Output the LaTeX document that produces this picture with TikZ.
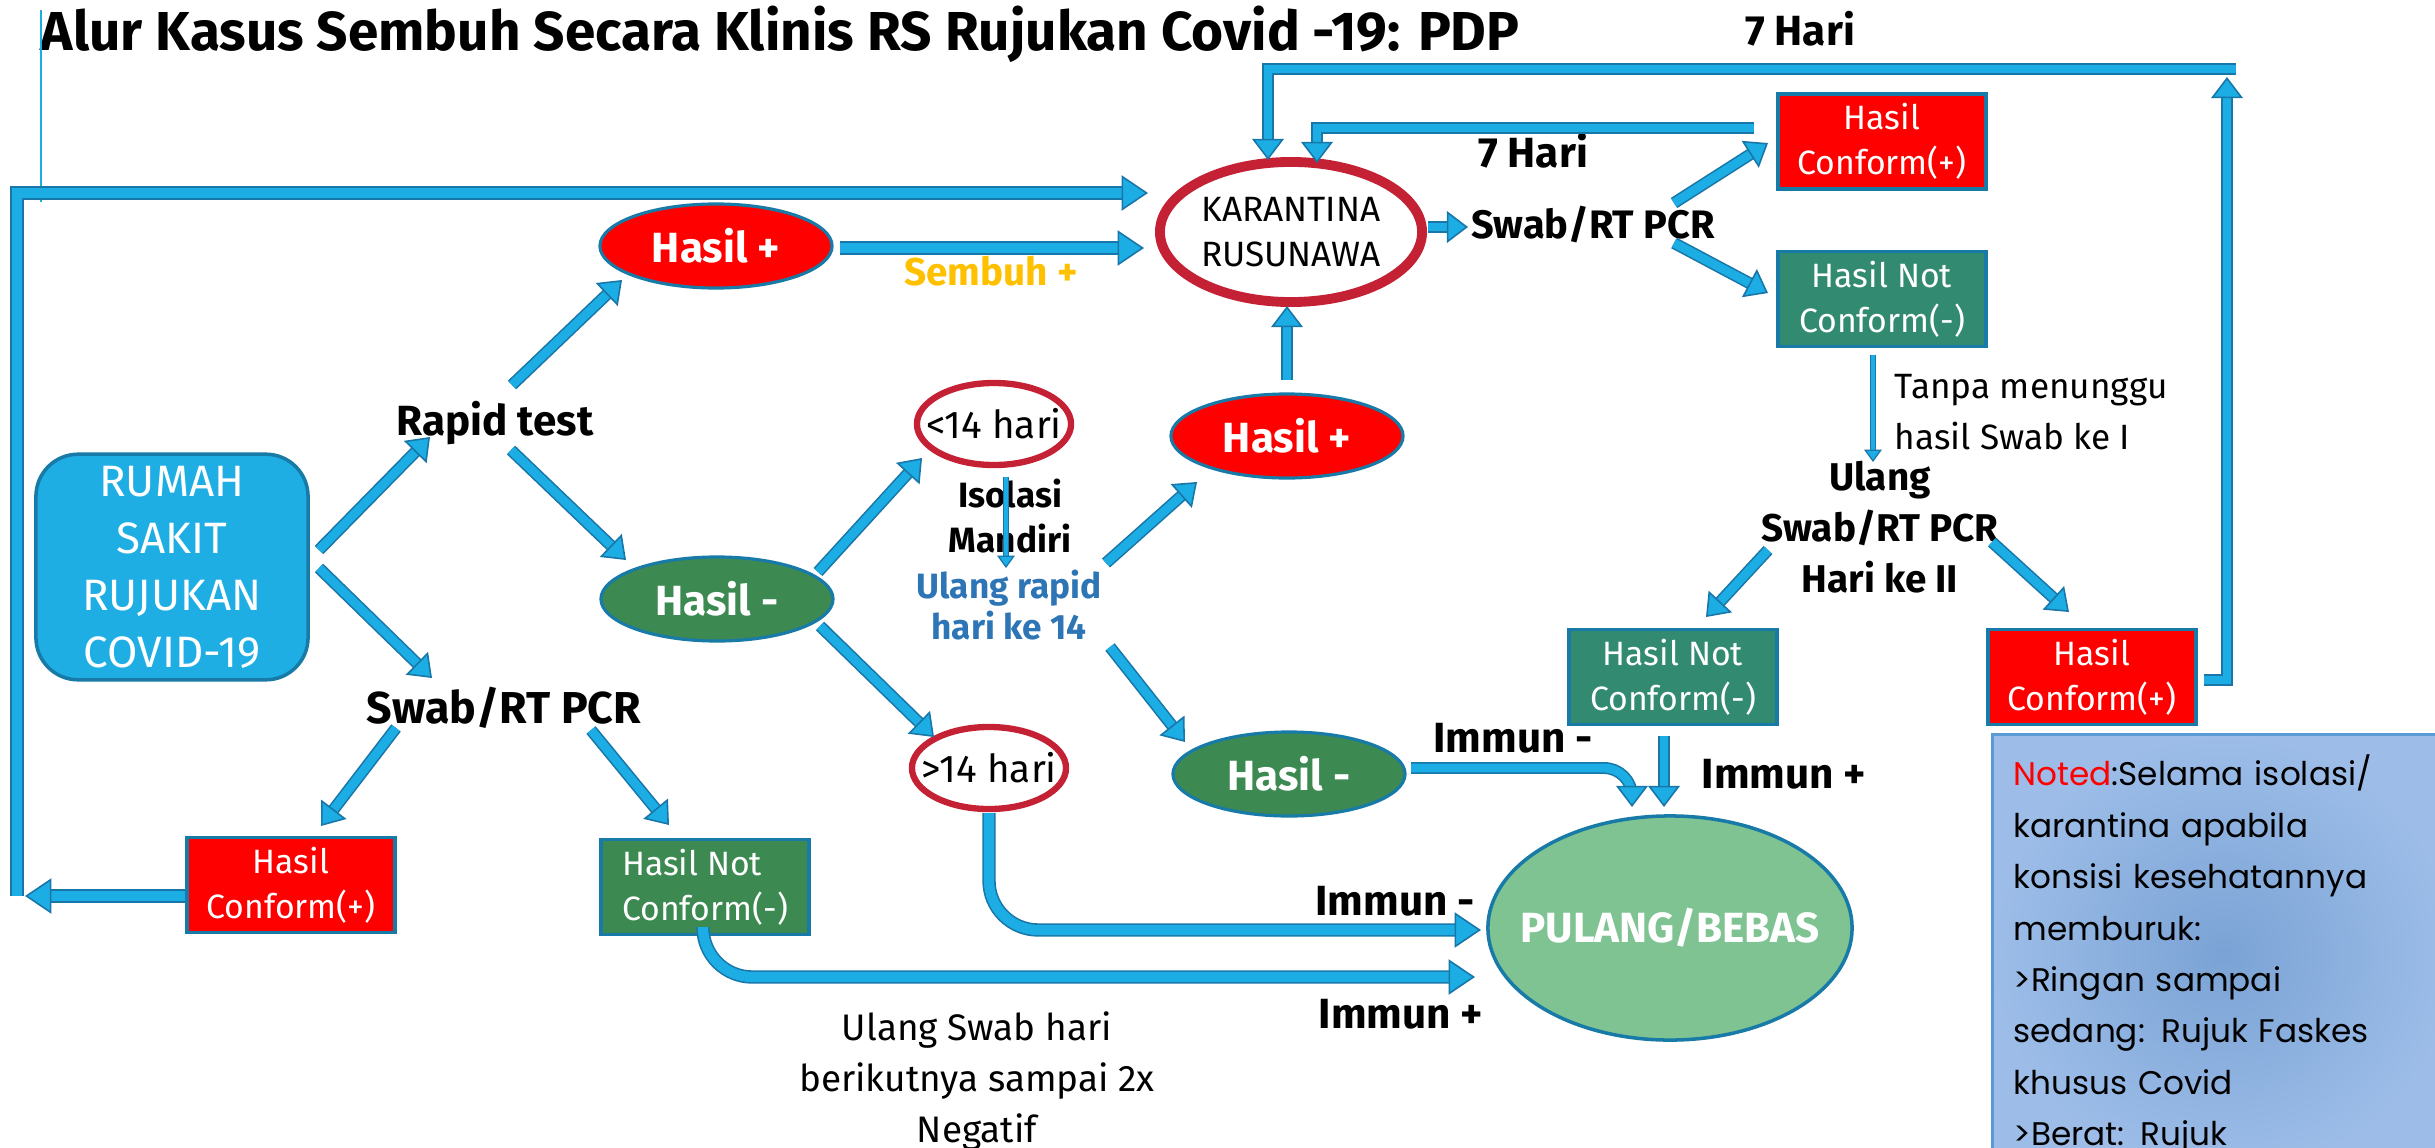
\documentclass[tikz,border=0pt]{standalone}
\usepackage{fontspec}
\setmainfont{Fira Sans}
\newfontfamily\notefont{Poppins}
\usetikzlibrary{arrows.meta,calc,shapes.geometric}
\definecolor{FlowFill}{RGB}{28,173,228}
\definecolor{FlowEdge}{RGB}{24,118,168}
\definecolor{BoxEdge}{RGB}{24,122,166}
\definecolor{RSBlue}{RGB}{31,174,228}
\definecolor{HasilRed}{RGB}{255,0,0}
\definecolor{HasilGreen}{RGB}{61,137,82}
\definecolor{NotGreen}{RGB}{50,139,112}
\definecolor{KarRed}{RGB}{196,34,52}
\definecolor{PulangGreen}{RGB}{127,195,146}
\definecolor{NoteIn}{RGB}{122,163,213}
\definecolor{NoteOut}{RGB}{157,189,232}
\definecolor{NoteEdge}{RGB}{91,155,213}
\definecolor{RapidBlue}{RGB}{46,117,182}
\definecolor{SembuhGold}{RGB}{255,192,0}

\begin{document}
\begin{tikzpicture}[x=0.01cm,y=-0.01cm,
  flow/.style={draw=FlowEdge,line width=.45pt,double=FlowFill,double distance=2.5pt,
    -{Triangle[length=6pt,width=9pt,fill=FlowFill,color=FlowEdge,line width=.45pt]}},
  bigflow/.style={flow,double distance=2.9pt,
    -{Triangle[length=7.5pt,width=10pt,fill=FlowFill,color=FlowEdge,line width=.45pt]}},
  thinflow/.style={flow,double distance=1pt,line width=.35pt,
    -{Triangle[length=3.5pt,width=5pt,fill=FlowFill,color=FlowEdge,line width=.35pt]}},
  lbl/.style={inner sep=0,font=\fontsize{12pt}{14pt}\selectfont\bfseries},
  txt/.style={inner sep=0,font=\fontsize{10.5pt}{14.4pt}\selectfont},
  rsbox/.style={rectangle,rounded corners=12pt,fill=RSBlue,draw=BoxEdge,line width=1pt,
    minimum width=2.72cm,minimum height=2.25cm,align=center,text=white,
    font=\fontsize{12.5pt}{16.2pt}\selectfont},
  confP/.style={rectangle,fill=HasilRed,draw=BoxEdge,line width=1.1pt,inner sep=0,
    minimum width=2.08cm,minimum height=.95cm,align=center,text=white,
    font=\fontsize{9.6pt}{12.8pt}\selectfont},
  confM/.style={confP,fill=NotGreen},
  hasilP/.style={ellipse,fill=HasilRed,draw=BoxEdge,line width=.9pt,inner sep=0,
    minimum width=2.32cm,minimum height=.84cm,text=white,
    font=\fontsize{12pt}{14pt}\selectfont\bfseries},
  hasilM/.style={hasilP,fill=HasilGreen},
  hari/.style={ellipse,draw=KarRed,line width=1.8pt,fill=white,inner sep=0,
    minimum width=1.54cm,minimum height=.82cm},
  haritxt/.style={inner sep=0,font=\fontsize{11pt}{13pt}\selectfont},
  karbox/.style={ellipse,draw=KarRed,line width=2.8pt,fill=white,inner sep=0,
    minimum width=2.62cm,minimum height=1.4cm,align=center,
    font=\fontsize{10pt}{12.8pt}\selectfont},
  pulangbox/.style={ellipse,fill=PulangGreen,draw=BoxEdge,line width=1pt,inner sep=0,
    minimum width=3.64cm,minimum height=2.24cm},
  pulangtxt/.style={inner sep=0,text=white,font=\fontsize{12pt}{14pt}\selectfont\bfseries},
  notebox/.style={rectangle,anchor=north west,inner color=NoteIn,outer color=NoteOut,
    draw=NoteEdge,line width=.8pt,text width=4.2cm,inner xsep=.21cm,inner ysep=0,
    minimum height=4.4cm,align=left,font=\notefont\fontsize{9.3pt}{14.6pt}\selectfont}]
\useasboundingbox (0,0) rectangle (2435,1148);

\node[anchor=base west,inner sep=0,font=\fontsize{15.6pt}{18pt}\selectfont\bfseries] (title) at (40,50)
  {Alur Kasus Sembuh Secara Klinis RS Rujukan Covid -19: PDP};
\draw[FlowFill,line width=.8pt] (41,10) -- (41,202);

\node[rsbox] (rs) at (172,567) {RUMAH\\SAKIT\\RUJUKAN\\COVID-19};
\node[lbl,anchor=base] (rapid) at (495,435) {Rapid test};
\node[lbl,anchor=base,font=\fontsize{12.7pt}{15pt}\selectfont\bfseries] (swabL) at (504,723) {Swab/RT PCR};
\node[hasilP] (hpA) at (716,246) {Hasil +};
\node[hasilM] (hmA) at (717,599) {Hasil -};
\node[confP] (cpA) at (291,885) {Hasil\\Conform(+)};
\node[confM,fill=HasilGreen,align=left] (cnA) at (705,887) {Hasil Not\\Conform(-)};
\node[hari,label={[haritxt]center:<14 hari}] (lt14) at (994,424) {};
\node[lbl,align=center,font=\fontsize{10pt}{12.8pt}\selectfont\bfseries] (isolasi) at (1010,516) {Isolasi\\Mandiri};
\node[lbl,align=center,text=RapidBlue,font=\fontsize{10pt}{11.7pt}\selectfont\bfseries] (ulangR) at (1009,605) {Ulang rapid\\hari ke 14};
\node[hari,label={[haritxt]center:>14 hari}] (gt14) at (989,768) {};
\node[hasilP] (hpB) at (1287,436) {Hasil +};
\node[hasilM] (hmB) at (1289,774) {Hasil -};
\node[karbox] (kar) at (1291,232) {KARANTINA\\RUSUNAWA};
\node[lbl,anchor=base,font=\fontsize{11.3pt}{14pt}\selectfont\bfseries] (swabT) at (1593,238) {Swab/RT PCR};
\node[confP] (cpT) at (1882,141.5) {Hasil\\Conform(+)};
\node[confM] (cnT) at (1882,299) {Hasil Not\\Conform(-)};
\node[lbl,anchor=base] (hariA) at (1800,45) {7 Hari};
\node[lbl,anchor=base] (hariB) at (1533,167) {7 Hari};
\node[txt,anchor=west,align=left,font=\fontsize{10pt}{14.4pt}\selectfont] (tanpa) at (1894,412) {Tanpa menunggu\\hasil Swab ke I};
\node[lbl,align=center,font=\fontsize{11pt}{14.5pt}\selectfont\bfseries] (ulangS) at (1880,527) {Ulang\\Swab/RT PCR\\Hari ke II};
\node[confM] (cnR) at (1673,677) {Hasil Not\\Conform(-)};
\node[confP] (cpR) at (2092,677) {Hasil\\Conform(+)};
\node[lbl,anchor=base] (immA) at (1513,752) {Immun -};
\node[lbl,anchor=base] (immB) at (1784,788) {Immun +};
\node[pulangbox,label={[pulangtxt]center:PULANG/BEBAS}] (pulang) at (1670,928) {};
\node[lbl,anchor=base] (immC) at (1395,915) {Immun -};
\node[lbl,anchor=base] (immD) at (1401,1028) {Immun +};
\node[lbl,anchor=base,text=SembuhGold,font=\fontsize{11pt}{13pt}\selectfont\bfseries] (sembuh) at (991,285) {Sembuh +};
\node[txt,align=center] (ulangSw) at (977,1081) {Ulang Swab hari\\berikutnya sampai 2x\\Negatif};
\node[notebox] (note) at (1991,733) {{\color{red}Noted}:Selama isolasi/\\karantina apabila\\konsisi kesehatannya\\memburuk:\\>Ringan sampai\\sedang: Rujuk Faskes\\khusus Covid\\>Berat: Rujuk};

\coordinate (loopL) at (17,896);
\coordinate (topR) at (2236,69);

\draw[flow] ($(rs)+(147,-17)$) -- ($(rapid.base)+(-65,2)$);
\draw[flow] ($(rs)+(147,1)$) -- ($(swabL.base)+(-72,-45)$);
\draw[flow] ($(rapid.base)+(17,-50)$) -- ($(hpA)+(-94,34)$);
\draw[flow] ($(rapid.base)+(16,15)$) -- ($(hmA)+(-91,-39)$);
\draw[flow] ($(hmA)+(101,-27)$) -- ($(lt14)+(-72,34)$);
\draw[flow] ($(hmA)+(103,27)$) -- ($(gt14)+(-55,-31)$);
\draw[flow] ($(swabL.base)+(-108,5)$) -- ($(cpA)+(30,-59)$);
\draw[flow] ($(swabL.base)+(87,7)$) -- ($(cnA)+(-36,-62)$);
\draw[bigflow] (cpA.west |- loopL) -- ($(loopL)+(8,0)$);
\draw[bigflow] (loopL) |- ($(kar)+(-143,-39)$);
\draw[bigflow] ($(hpA)+(124,2)$) -- ($(kar)+(-147,16)$);
\draw[thinflow] ($(lt14)+(12,53)$) -- ($(ulangR)+(-3,-37)$);
\draw[flow] ($(isolasi)+(96,47)$) -- ($(hpB)+(-90,46)$);
\draw[flow] ($(ulangR)+(101,42)$) -- ($(hmB)+(-104,-32)$);
\draw[flow] ($(hpB)+(0,-56)$) -- ($(kar)+(-4,74)$);
\draw[flow] ($(kar)+(137,-5)$) -- ($(swabT.base)+(-125,-11)$);
\draw[flow] ($(swabT.base)+(81,-35)$) -- ($(cpT)+(-114,1.5)$);
\draw[flow] ($(swabT.base)+(81,5)$) -- ($(cnT)+(-114,-6)$);
\draw[flow] ($(cpT.west)+(-22,-13.5)$) -| ($(kar)+(26,-69)$);
\draw[flow] (topR) -| ($(kar)+(-23,-72)$);
\draw[flow] ($(cpR.east)+(6,3)$) -| ($(topR)+(-9,8)$);
\draw[thinflow] ($(cnT)+(-9,56)$) -- ($(ulangS)+(-7,-65)$);
\draw[flow] ($(ulangS)+(-112,23)$) -- ($(cnR)+(33,-60)$);
\draw[flow] ($(ulangS)+(112,15)$) -- ($(cpR)+(-23,-65)$);
\draw[flow,rounded corners=8pt] ($(hmB)+(122,-6)$) -| ($(pulang)+(-38,-121)$);
\draw[flow] ($(cnR)+(-9,59)$) -- ($(pulang)+(-6,-121)$);
\draw[bigflow,rounded corners=14pt] ($(gt14)+(0,45)$) |- ($(pulang)+(-189,2)$);
\draw[bigflow,rounded corners=14pt] ($(cnA)+(-2,40)$) |- ($(pulang)+(-195,49)$);
\end{tikzpicture}
\end{document}
